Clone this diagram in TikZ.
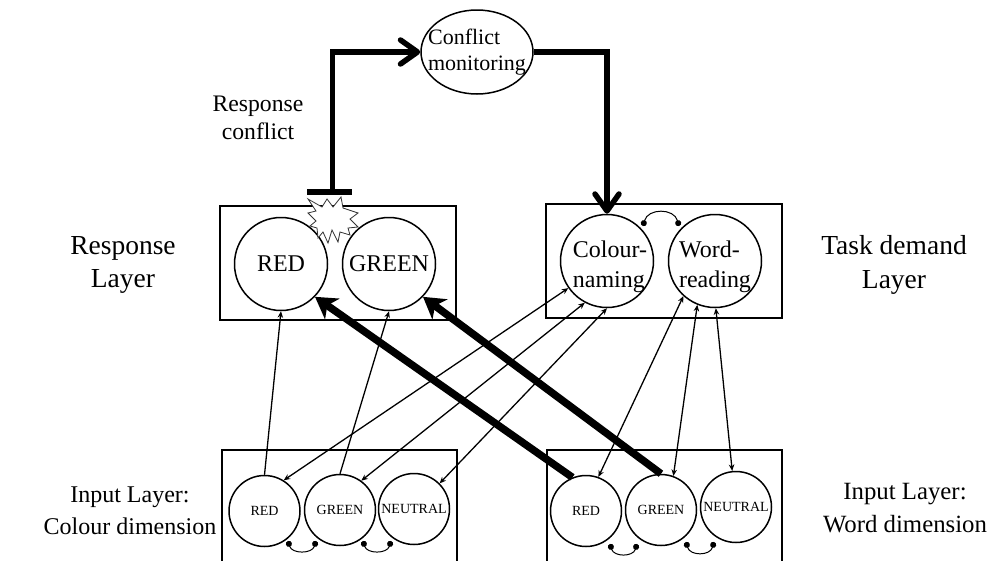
\documentclass[tikz,border=0pt]{standalone}
\usepackage{fontspec}
\setmainfont{Liberation Serif}
\usetikzlibrary{arrows.meta,shapes.geometric}
\newcommand{\fs}[1]{\fontsize{#1pt}{#1pt}\selectfont}
\tikzset{
  layerbox/.style={draw=black,line width=1.5pt,fill=white},
  unit/.style={circle,draw=black,line width=1.5pt,fill=white,inner sep=0pt,align=center},
  bigunit/.style={unit,minimum size=93pt,font=\fs{24}},
  twoline/.style={align=left,inner sep=0pt,font=\fs{24}\linespread{1.27}\selectfont},
  smallunit/.style={unit,minimum size=71pt,font=\fs{14}},
  lbl/.style={align=center,inner sep=0pt},
  thinarr/.style={line width=1.3pt,-{Stealth[length=6.5pt,width=5.5pt]}},
  thinboth/.style={line width=1.3pt,{Stealth[length=6.5pt,width=5.5pt]}-{Stealth[length=6.5pt,width=5.5pt]}},
  thickarr/.style={line width=7.5pt,-{Stealth[length=21pt,width=25pt,inset=6pt]}},
  ctrlarr/.style={line width=5.5pt,-{Straight Barb[length=17pt,width=24pt,round]}},
  inhib/.style={line width=1pt,{Circle[length=6pt]}-{Circle[length=6pt]}},
}
\begin{document}
\begin{tikzpicture}[x=1pt,y=-1pt]
\useasboundingbox (0,0) rectangle (991,560);
\path[fill=white] (0,0) rectangle (991,560);
% layer boxes
\draw[layerbox] (220,206) rectangle (456,320);
\draw[layerbox] (546,204) rectangle (782,318);
\draw[layerbox] (222,450) rectangle (457,575);
\draw[layerbox] (547,450) rectangle (782,575);
% units
\node[bigunit] (rr) at (281,264) {RED};
\node[bigunit] (gg) at (389,264) {GREEN};
\node[bigunit,label={[twoline,name=cnt,xshift=3pt,yshift=-6pt]center:{Colour-\\naming}}] (cn) at (607,261) {};
\node[bigunit,label={[twoline,name=wdt,yshift=-6pt]center:{Word-\\reading}}] (wd) at (715,261) {};
\node[smallunit] (ir) at (264.5,511) {RED};
\node[smallunit] (ig) at (340,510) {GREEN};
\node[smallunit] (in) at (414,509) {NEUTRAL};
\node[smallunit] (wr) at (586,511) {RED};
\node[smallunit] (wg) at (661,510) {GREEN};
\node[smallunit] (wn) at (736,507) {NEUTRAL};
\node[ellipse,draw=black,line width=1.5pt,fill=white,inner sep=0pt,minimum width=112pt,minimum height=84pt,label={[align=left,inner sep=0pt,name=mont,font=\fs{22}\linespread{1.2}\selectfont]center:{Conflict\\monitoring}}] (mon) at (477,52) {};
% conflict burst
\draw[line width=0.8pt,fill=white,draw=black!80] (308,199) -- (322,207) -- (327,199) -- (333,207) -- (341,197) -- (343,208) -- (358,213) -- (350,219) -- (358,227) -- (348,228) -- (350,235) -- (340,232) -- (338,242) -- (332,230) -- (328,243) -- (323,232) -- (318,238) -- (317,228) -- (310,226) -- (316,221) -- (308,213) -- (316,211) -- cycle;
% control loop
\coordinate (tb) at (332.5,192);
\coordinate (tl) at (307,192);
\coordinate (tr) at (352,192);
\draw[line width=6pt] (tl) -- (tr);
\draw[ctrlarr] (tb) |- (mon.west);
\draw[ctrlarr] (mon.east) -| (cn.north);
% thin links
\draw[thinarr] (ir.90) -- (rr.-90);
\draw[thinarr] (ig.90) -- (gg.-90);
\draw[thinboth] (cn.-145) -- (ir.58);
\draw[thinboth] (cn.-118) -- (ig.54);
\draw[thinboth] (cn.-90) -- (in.45);
\draw[thinboth] (wd.-132) -- (wr.70);
\draw[thinboth] (wd.-112) -- (wg.70);
\draw[thinboth] (wd.-89) -- (wn.96);
% thick links
\draw[thickarr] (wr.112) -- (rr.-44);
\draw[thickarr] (wg.90) -- (gg.-44);
% inhibition arcs
\coordinate (a1) at (643,226); \coordinate (a2) at (679,226);
\draw[inhib] (a1) .. controls (648,208) and (674,208) .. (a2);
\coordinate (b1) at (288,541); \coordinate (b2) at (316,541);
\draw[inhib] (b1) .. controls (292,554) and (312,554) .. (b2);
\coordinate (b3) at (363,541); \coordinate (b4) at (391,541);
\draw[inhib] (b3) .. controls (367,554) and (387,554) .. (b4);
\coordinate (c1) at (610,544); \coordinate (c2) at (637,544);
\draw[inhib] (c1) .. controls (614,557) and (633,557) .. (c2);
\coordinate (c3) at (686,542); \coordinate (c4) at (714,542);
\draw[inhib] (c3) .. controls (690,556) and (710,556) .. (c4);
% labels
\node[lbl,font=\fs{27.5}\linespread{1.22}\selectfont] (t1) at (123,265) {Response\\Layer};
\node[lbl,font=\fs{27.5}\linespread{1.22}\selectfont] (t2) at (894,265) {Task demand\\Layer};
\node[lbl,font=\fs{23.7}\linespread{1.2}\selectfont] (t3) at (258,118) {Response\\conflict};
\node[lbl,font=\fs{24}\linespread{1.35}\selectfont] (t4) at (130,511) {Input Layer:\\Colour dimension};
\node[lbl,font=\fs{24.8}\linespread{1.32}\selectfont] (t5) at (905,508) {Input Layer:\\Word dimension};
\end{tikzpicture}
\end{document}
